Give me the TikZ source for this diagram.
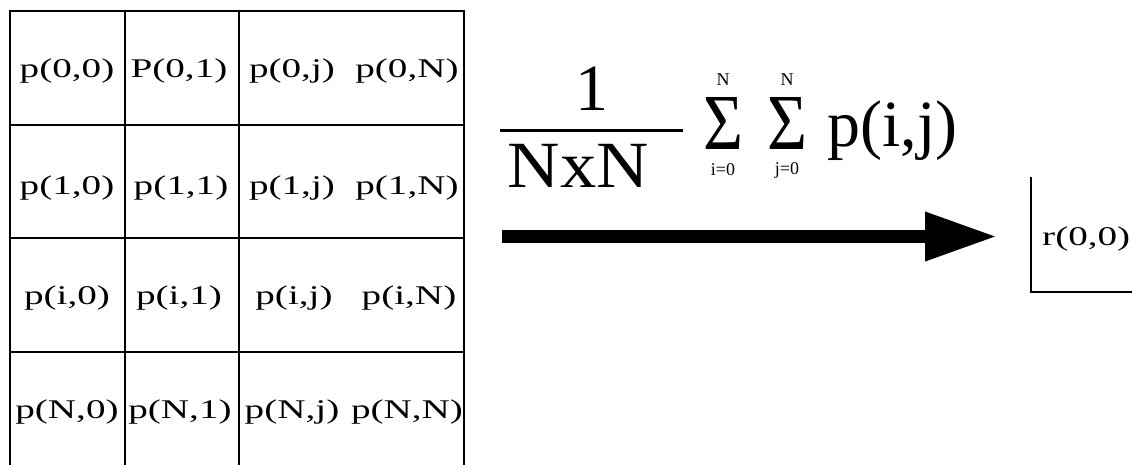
\documentclass[tikz,border=0pt]{standalone}
\usepackage{fontspec}
\setmainfont{Liberation Serif}
\usepackage{graphicx}
\usetikzlibrary{arrows.meta}
\newcommand{\gtxt}[1]{\scalebox{1.45}[1]{#1}}
\begin{document}
\begin{tikzpicture}[x=1pt,y=-1pt,
  gridline/.style={line width=2.6pt, line cap=rect},
  cell/.style={font=\fontsize{27}{30}\selectfont, inner sep=0pt, anchor=center},
  big/.style={font=\fontsize{66}{70}\selectfont, inner sep=0pt, anchor=base},
  lim/.style={font=\fontsize{18}{19}\selectfont, inner sep=0pt, anchor=center},
  sig/.style={inner sep=0pt, anchor=center}]
\useasboundingbox (0,0) rectangle (1132,464);
\clip (0,0) rectangle (1132,464);
\fill[white] (0,0) rectangle (1132,464);
% grid
\draw[gridline] (10,11) rectangle (464,480);
\draw[gridline] (125,11) -- (125,480);
\draw[gridline] (239,11) -- (239,480);
\draw[gridline] (10,125) -- (464,125);
\draw[gridline] (10,238) -- (464,238);
\draw[gridline] (10,352) -- (464,352);
% cells
\node[cell] (c00) at (67,71) {\gtxt{p(0,0)}};
\node[cell] (c01) at (179,71) {\gtxt{P(0,1)}};
\node[cell] (c0j) at (292,71) {\gtxt{p(0,j)}};
\node[cell] (c0N) at (407,71) {\gtxt{p(0,N)}};
\node[cell] (c10) at (67,188) {\gtxt{p(1,0)}};
\node[cell] (c11) at (181,188) {\gtxt{p(1,1)}};
\node[cell] (c1j) at (292,188) {\gtxt{p(1,j)}};
\node[cell] (c1N) at (407,188) {\gtxt{p(1,N)}};
\node[cell] (ci0) at (67,298) {\gtxt{p(i,0)}};
\node[cell] (ci1) at (179,298) {\gtxt{p(i,1)}};
\node[cell] (cij) at (294,298) {\gtxt{p(i,j)}};
\node[cell] (ciN) at (409,298) {\gtxt{p(i,N)}};
\node[cell] (cN0) at (67,412) {\gtxt{p(N,0)}};
\node[cell] (cN1) at (180,412) {\gtxt{p(N,1)}};
\node[cell] (cNj) at (292,412) {\gtxt{p(N,j)}};
\node[cell] (cNN) at (407,412) {\gtxt{p(N,N)}};
% formula
\node[big] (one) at (592,110) {1};
\draw[line width=3pt] (500,130) -- (683,130);
\node[big] (nxn) at (578.5,187) {\scalebox{1.1}[1]{NxN}};
\node[sig] (s1) at (723,123) {\resizebox{40pt}{52pt}{Σ}};
\node[lim] (s1u) at (723,80) {N};
\node[lim] (s1l) at (723,170) {i=0};
\node[sig] (s2) at (787.5,123) {\resizebox{40pt}{52pt}{Σ}};
\node[lim] (s2u) at (787,80) {N};
\node[lim] (s2l) at (787,170) {j=0};
\node[big, anchor=base west] (pij) at (827,146) {p(i,j)};
% arrow
\coordinate (a1) at (502,236.5);
\coordinate (a2) at (997,236.5);
\draw[line width=13pt, -{Triangle[length=72pt,width=46pt]}] (a1) -- (a2);
% result box
\coordinate (r1) at (1031,177);
\coordinate (r2) at (1031,292);
\coordinate (r3) at (1140,292);
\draw[line width=2.5pt] (r1) -- (r2) -- (r3);
\node[cell, anchor=base west] (r) at (1042,245) {\gtxt{r(0,0)}};
\end{tikzpicture}
\end{document}
